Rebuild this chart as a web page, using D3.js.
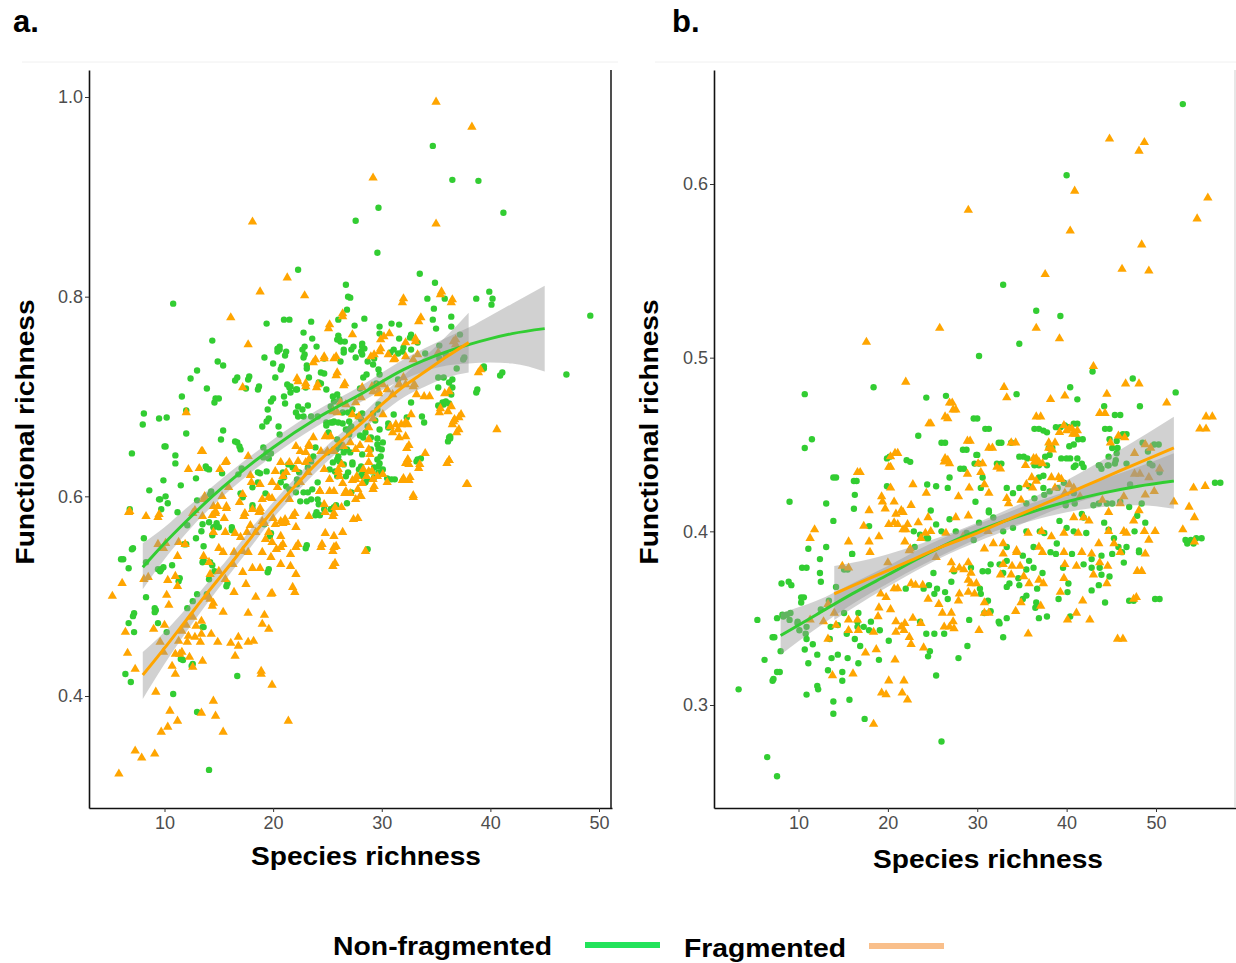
<!DOCTYPE html>
<html>
<head>
<meta charset="utf-8">
<script src="https://cdn.jsdelivr.net/npm/d3@7"></script>
<style>
  body { margin: 0; background: #fff; }
  svg text { font-family: "Liberation Sans", Arial, sans-serif; }
</style>
</head>
<body>
<svg id="chart" width="1236" height="963"></svg>
<script>
// ---- panel a : non-fragmented (green dots) ----
var greenA = [
[34.7,.951],[36.5,.917],[38.9,.916],[29.7,.889],[27.6,.876],[41.2,.884],[29.6,.844],[22.3,.827],[26.7,.812],[33.5,.823],[34.9,.814],[39.9,.805],[38.7,.798],[40.2,.798],[34.2,.798],[35.8,.798],[40.1,.792],[10.8,.793],[49.2,.781],[26.9,.800],[27.1,.799],[26.8,.787],[34.8,.788],[34.7,.777],[36.4,.780],[28.4,.778],[26.0,.777],[21.0,.777],[21.5,.777],[23.5,.775],[19.4,.773],[27.5,.771],[29.8,.770],[30.9,.773],[31.6,.772],[35.0,.768],[36.4,.770],[29.8,.763],[14.4,.756],[23.6,.758],[26.0,.761],[32.7,.762],[37.2,.762],[26.1,.757],[20.6,.750],[20.4,.748],[22.9,.750],[24.0,.750],[26.6,.755],[28.2,.753],[28.4,.748],[31.1,.747],[32.0,.749],[26.5,.747],[21.2,.745],[22.9,.742],[19.2,.739],[20.0,.733],[20.8,.730],[14.9,.735],[15.4,.731],[13.0,.726],[29.3,.738],[31.5,.743],[34.0,.743],[35.3,.751],[35.3,.738],[35.9,.742],[37.6,.739],[39.4,.730],[41.1,.724],[47.0,.722],[23.1,.731],[17.8,.720],[12.4,.718],[16.7,.719],[18.7,.710],[13.9,.708],[11.6,.700],[14.7,.698],[20.0,.698],[21.6,.710],[22.2,.707],[24.4,.713],[24.9,.707],[28.0,.708],[29.5,.713],[28.6,.722],[31.5,.717],[36.5,.717],[35.2,.709],[36.2,.693],[38.8,.707],[36.3,.660],[33.3,.637],[33.7,.680],
[22.8,.764],[25.9,.757],[26.2,.755],[31.6,.758],[32.6,.759],[33.3,.754],[27.4,.750],[28.2,.750],[28.1,.745],[27.6,.739],[28.2,.742],[27.2,.747],[30.8,.744],[31.9,.745],[32.7,.747],[22.7,.747],[22.8,.739],[24.7,.738],[26.5,.744],[26.2,.735],[28.7,.735],[29.2,.732],[23.1,.728],[24.4,.724],[24.7,.723],[29.7,.727],[29.8,.722],[28.3,.719],[37.5,.737],[36.9,.728],[35.2,.719],[35.7,.719],[36.2,.714],[36.5,.709],[39.4,.728],[40.9,.721],[38.7,.704],[35.6,.694],[35.2,.691],[32.7,.694],[23.3,.719],[24.2,.714],[23.0,.709],[22.1,.707],[21.6,.704],[25.5,.700],[25.9,.702],[26.1,.697],[25.6,.695],[25.3,.690],[22.3,.690],[22.7,.687],[23.2,.691],[22.3,.680],[22.1,.684],[22.8,.680],[24.9,.674],[25.3,.674],[25.6,.675],[26.0,.674],[23.5,.680],[24.1,.680],[26.4,.684],[26.9,.684],[27.3,.687],
[29.7,.624],[29.8,.633],[29.3,.619],[28.7,.617],[25.6,.589],[25.3,.587],[24.7,.587],[24.2,.592],[24.0,.584],[23.5,.597],[22.8,.604],[22.5,.595],[22.1,.604],[25.5,.634],[25.9,.637],[26.0,.640],[25.8,.647],[26.2,.649],[25.0,.644],[26.5,.644],[23.9,.649],[23.7,.640],[23.5,.635],[23.2,.629],[22.4,.624],[22.2,.617],[23.6,.607],[24.1,.614],
[29.7,.692],[29.6,.687],[29.2,.683],[29.4,.676],[30.6,.669],[29.8,.667],[29.6,.658],[29.6,.652],[29.7,.648],[29.6,.637],[29.7,.630],[28.1,.677],[28.2,.683],[27.8,.680],[27.2,.670],[27.0,.675],[26.9,.667],[28.0,.661],[28.3,.659],[27.0,.662],[26.4,.673],[26.7,.667],[27.1,.644],[27.3,.634],[28.2,.642],[29.0,.647],[28.1,.627],[28.3,.620],[28.5,.614],[28.1,.630],[27.3,.632],[26.9,.624],[26.7,.620],[25.7,.625],[25.9,.620],[25.6,.647],[25.9,.657],[26.2,.652],[25.1,.664],[24.9,.671],[25.5,.674],[31.1,.682],[30.6,.673],[32.3,.679],[33.9,.674],[35.3,.690],[35.7,.692],[35.9,.695],[36.4,.702],[36.1,.655],[36.2,.659],[29.0,.659],[28.5,.664],[28.7,.670],
[7.0,.643],[10.1,.650],[11.0,.641],[11.0,.633],[13.9,.628],[15.3,.623],[12.9,.618],[9.9,.616],[11.5,.611],[8.6,.606],[16.8,.622],[18.8,.623],[17.0,.647],[16.7,.654],[9.6,.597],[9.7,.587],[10.1,.600],[10.3,.593],[6.8,.587],[11.2,.584],[13.0,.596],[14.3,.605],[14.8,.573],[16.2,.569],[17.0,.603],[18.1,.591],[19.3,.603],[21.2,.610],[22.2,.612],[23.2,.604],[23.1,.595],[24.1,.597],[25.2,.627],[26.5,.632],[26.1,.635],[26.8,.647],[27.2,.604],[25.8,.591],[26.8,.593],[23.9,.581],[24.3,.581],[19.8,.563],[23.1,.551],[28.7,.547],[19.6,.527],[16.7,.420],[12.6,.432],[11.7,.436],[11.5,.437],[13.6,.469],[10.2,.464],[9.4,.473],[9.2,.486],[8.3,.499],[7.2,.483],[6.7,.473],[7.2,.464],[6.4,.422],[6.9,.414],[6.2,.537],[6.7,.528],[7.1,.548],[8.1,.558],[9.7,.527],[9.9,.529],[9.4,.527],[11.4,.518],[10.7,.531],[13.6,.536],[14.2,.534],[13.9,.502],[15.8,.513],[14.6,.525],[13.6,.550],[11.8,.552],[12.0,.552],[12.9,.558],[12.1,.571],[10.8,.402],[13.0,.384],[14.1,.326],[27.9,.627],[28.3,.625],[28.1,.621],[29.1,.625],[29.3,.629],[29.9,.640],[30.0,.647],[30.1,.654],[30.1,.627],[30.5,.618],[31.2,.617],[30.9,.617],[33.2,.635],[33.6,.638],[36.3,.658],
[11.3,.515],[8.3,.534],[13.5,.572],[14.1,.574],[14.5,.569],[15.0,.569],[13.4,.565],[14.4,.561],[16.2,.566],[13.5,.534],[14.4,.531],[15.7,.510],[14.1,.517],[9.1,.488],[9.1,.484],[7.1,.480],[12.1,.488],[12.6,.495],[13.0,.502],[13.5,.469],[12.5,.430],[19.5,.524],[23.0,.548],[19.7,.560],[19.2,.572],[6.0,.537],[7.0,.547],[9.6,.525],
[20.4,.745],[20.6,.747],[21.1,.741],[20.7,.727],[20.2,.719],[16.5,.716],[17.7,.717],[17.5,.708],[18.6,.707],[14.6,.694],[15.0,.698],[12.0,.686],[8.1,.683],[8.0,.672],[9.5,.678],[10.2,.679],[12.0,.663],[15.4,.666],[15.2,.657],[16.5,.655],[16.9,.650],[10.0,.650],[13.8,.630],[14.1,.627],[9.5,.597],[17.2,.599],[18.1,.588],[19.1,.649],[19.4,.644],[19.8,.643],[19.6,.638],[19.1,.639],[19.0,.670],[19.4,.675],[19.6,.678],[19.8,.695],[19.5,.687],[20.5,.670],[20.6,.662],[18.6,.624],[19.4,.625],[20.9,.624],[21.0,.619],[21.4,.632],[21.8,.629],[20.7,.614],[21.5,.607],[21.3,.712],[21.5,.709],[21.0,.700],[21.1,.693],[17.1,.628],[14.2,.602],[18.1,.609],[18.6,.614]
];

// ---- panel a : fragmented (orange triangles) ----
var orangeA = [
[35.0,.995],[38.3,.970],[29.2,.919],[35.0,.873],[18.1,.875],[21.3,.819],[18.8,.805],[22.9,.801],[35.5,.805],[32.0,.798],[36.5,.797],[26.4,.783],[33.6,.779],[16.1,.779],[25.2,.772],[17.7,.752],[30.2,.760],[30.7,.763],[33.1,.758],[36.8,.757],[29.9,.748],[24.7,.740],[25.8,.740],[23.9,.737],[29.3,.742],[30.6,.742],[31.2,.738],[32.2,.740],[33.3,.742],[39.1,.727],[22.2,.718],[23.0,.713],[24.1,.712],[26.6,.713],[17.2,.709],[25.9,.724],[29.7,.703],[33.0,.712],[33.2,.702],[33.9,.700],[34.4,.700],[36.2,.705],[35.4,.688],[36.4,.690],[37.3,.682],[36.7,.677],[37.1,.667],[40.6,.667],[36.2,.636],[34.0,.643],[33.5,.632],[32.4,.637],[32.4,.672],[31.5,.667],
[12.0,.684],[13.4,.645],[15.6,.634],[17.7,.640],[12.2,.627],[13.2,.628],[15.1,.627],[20.7,.634],[21.5,.634],[20.2,.625],[20.9,.620],[21.2,.624],[18.0,.614],[18.8,.612],[19.9,.614],[20.4,.609],[15.9,.609],[15.3,.600],[14.5,.590],[15.7,.588],[14.9,.590],[13.6,.597],[17.2,.602],[16.9,.594],[19.6,.599],[19.0,.597],[18.8,.585],[18.1,.587],[21.5,.597],
[8.3,.580],[9.4,.579],[6.7,.584],[12.6,.583],[13.5,.580],[14.4,.581],[14.7,.583],[15.5,.578],[17.3,.580],[18.7,.584],[17.9,.571],[19.0,.575],[20.2,.572],[20.7,.575],[21.2,.574],[22.1,.569],[21.8,.580],[23.3,.580],[24.8,.584],[25.5,.580],[26.4,.564],[25.6,.560],[24.8,.563],[14.5,.564],[15.6,.564],[16.5,.563],[17.0,.559],[17.6,.564],[18.4,.564],[19.3,.557],[19.6,.564],[20.7,.560],[22.1,.549],[24.4,.549],[25.5,.545],[25.6,.549],[11.9,.552],[11.3,.554],[9.4,.552],[9.9,.548],[13.6,.540],[15.0,.548],[15.4,.544],[16.4,.544],[17.2,.545],[17.7,.544],[19.0,.544],[19.8,.539],[20.7,.549],[21.6,.542],[20.7,.532],[21.6,.530],[22.1,.522],[25.5,.530],[11.2,.540],[14.1,.534],[14.2,.522],[15.0,.525],[15.6,.517],[16.3,.532],[17.2,.524],[18.1,.528],[18.8,.528],[17.5,.512],[18.4,.499],[17.7,.483],[15.4,.484],[16.4,.504],[19.8,.502],[19.2,.481],[19.0,.472],[19.6,.467],[21.8,.509],[22.0,.504],[19.9,.554],[20.3,.547],[6.1,.513],[5.2,.500],[8.1,.517],[8.5,.519],[10.3,.516],[11.0,.520],[11.2,.510],[10.2,.501],[10.4,.491],[12.6,.479],[13.4,.475],[12.9,.470],[12.0,.471],[11.6,.465],[12.2,.460],[12.8,.459],[13.4,.462],[14.3,.462],[13.3,.454],[12.1,.454],[11.3,.455],[11.4,.442],[11.0,.442],[10.0,.471],[9.0,.467],[6.4,.464],[6.6,.443],[7.3,.427],[10.7,.430],[11.0,.422],[12.3,.439],[13.5,.435],[12.6,.429],[9.6,.454],[9.9,.444],[11.6,.444],[14.0,.499],[14.4,.490],[14.5,.493],[14.2,.497],[14.9,.454],[16.1,.453],[16.8,.459],[16.5,.440],[17.7,.454],[18.2,.455],[16.8,.450],[18.9,.422],[19.9,.411],[9.2,.404],[14.5,.395],[13.4,.383],[14.7,.380],[10.5,.385],[11.2,.375],[10.3,.369],[9.7,.364],[15.4,.364],[21.4,.375],[7.3,.345],[7.9,.338],[9.1,.342],[5.8,.322],
[13.5,.645],[15.7,.635],[17.9,.621],[6.8,.585],[9.5,.582],[12.8,.586],[13.7,.600],[14.7,.585],[15.7,.590],[17.4,.583],[18.8,.588],[19.9,.598],[24.3,.605],[25.6,.605],[26.6,.603],[28.1,.600],[25.6,.583],[21.1,.577],[20.9,.573],[22.0,.583],[20.0,.578],[19.2,.573],[20.9,.552],[22.3,.552],[24.5,.552],[25.8,.550],[27.4,.577],[27.8,.578],[28.5,.545],[25.7,.533],[19.9,.503],[27.7,.620],[28.6,.620],[32.0,.618],[32.6,.619],[32.5,.632],[32.5,.651],[32.9,.601],[29.3,.610],[36.2,.636],[37.9,.612],[18.9,.425],[10.1,.553],
[30.1,.712],[30.5,.707],[31.0,.702],[32.2,.712],[32.9,.710],[31.6,.712],[32.7,.682],[32.2,.674],[31.8,.672],[32.2,.660],[32.3,.648],[31.3,.672],[30.8,.670],[31.0,.664],[31.6,.659],[35.3,.684],[36.1,.685],[37.1,.679],[36.6,.675],[36.5,.672],[36.9,.664],[35.8,.703],[28.8,.669],[28.8,.657],[28.8,.647],[28.9,.642],[28.0,.651],[27.6,.647],[27.1,.654],[26.5,.650],[28.8,.634],[28.8,.625],[28.3,.627],[29.2,.617],[25.6,.645],[25.0,.645],[31.9,.616],[32.5,.616],[33.4,.628],[32.2,.633],[36.0,.633],[37.8,.612],[32.9,.599],[30.1,.622],[29.1,.625],[30.5,.614],[29.6,.620],[27.6,.617],[28.2,.613],[27.1,.603],[26.7,.605],[29.2,.607],[28.0,.600],[27.6,.597],[26.3,.589],[25.7,.589],[24.7,.592],[24.3,.605],[26.0,.627],[25.2,.617],[26.1,.620],[24.4,.645],[23.3,.652],[22.5,.645],[23.0,.634],[22.1,.627],[25.9,.684],[25.5,.685],[26.2,.694],[26.7,.692],[28.1,.699],[27.3,.682],[27.6,.694],[27.9,.680],[30.1,.682],[29.2,.678],[29.7,.705],[29.2,.705],[28.2,.709],[29.1,.710],[29.5,.710],[25.3,.660],[24.8,.660],[26.3,.632],[27.3,.616],[26.4,.613],[27.8,.607],[24.7,.627],[26.0,.624],[23.7,.659],[23.3,.650],[23.0,.644],[22.1,.650],[23.3,.637],[22.3,.635],[23.2,.624],[22.5,.614],[24.3,.605],[25.2,.605],[25.1,.768],[31.9,.794],[33.4,.775],[35.4,.802],[36.4,.794],[26.4,.780],[29.9,.757],[27.3,.762],[29.0,.740],[29.8,.745],[25.8,.721],[26.5,.711],[24.0,.709],[22.3,.715],[23.0,.710],[23.7,.734],[24.7,.738],[25.6,.738],[31.1,.737],[32.9,.737],[32.2,.754],[33.1,.755],[32.0,.719],[31.6,.712],[35.2,.744],[36.8,.752],[36.6,.755],[38.9,.724]
];

// ---- panel b : non-fragmented (green dots) ----
var greenB = [
[53.0,.646],[40.0,.605],[32.9,.542],[36.6,.527],[39.3,.524],[34.7,.508],[30.2,.501],[42.9,.492],[47.4,.488],[18.4,.483],[10.7,.479],[40.4,.483],[52.2,.480],[24.3,.477],[26.5,.478],[34.4,.479],[41.2,.476],[44.2,.472],[48.2,.472],[46.0,.467],[30.0,.465],[41.2,.462],[40.2,.460],[31.3,.459],[36.9,.459],[37.8,.457],[44.8,.459],[23.4,.455],[10.7,.448],[11.5,.453],[46.7,.456],[46.0,.455],[41.8,.453],[40.8,.450],[40.4,.442],[38.4,.448],[39.3,.460],[45.6,.452],[45.7,.448],[48.5,.451],[50.3,.450],[49.1,.446],[26.4,.451],[30.0,.444],[30.2,.439],[32.7,.451],[32.7,.439],[35.2,.443],[36.9,.438],[38.1,.444],[39.4,.442],[20.2,.443],[22.5,.440],[28.5,.436],[28.8,.447],[14.2,.431],[16.5,.429],[41.2,.442],[41.7,.439],[41.9,.437],[43.6,.438],[44.6,.438],[45.5,.441],[43.9,.436],
[19.9,.442],[22.1,.441],[13.9,.431],[16.2,.429],[16.3,.421],[13.1,.416],[9.0,.417],[16.2,.413],[13.9,.406],[19.9,.426],[24.4,.427],[17.9,.403],[22.9,.400],[23.6,.398],[24.5,.396],[11.1,.390],[13.1,.391],[16.0,.387],[12.4,.384],[23.0,.391],[24.8,.412],
[29.6,.465],[30.9,.459],[32.4,.451],[33.8,.451],[36.4,.459],[37.4,.458],[38.8,.460],[39.8,.461],[40.8,.462],[41.3,.453],[40.3,.449],[40.0,.442],[41.0,.438],[40.8,.437],[37.6,.443],[38.0,.448],[44.3,.459],[45.4,.467],[46.3,.456],[44.8,.453],[45.1,.448],[45.6,.445],[44.7,.443],[26.0,.451],[28.4,.447],[29.9,.444],[29.7,.439],[32.2,.439],[34.7,.443],[35.6,.442],[36.4,.438],[37.8,.438],[26.9,.431],[26.7,.425],[28.1,.436],[30.6,.431],[30.4,.425],[25.4,.426],[29.8,.417],[31.3,.411],[33.3,.425],[34.0,.422],[34.7,.425],[35.5,.416],[36.4,.419],[36.9,.431],[37.4,.432],[35.8,.426],[37.4,.425],[38.1,.423],[37.5,.421],[39.0,.425],[39.7,.428],[40.8,.422],[39.9,.415],[40.9,.416],[41.7,.410],[43.0,.415],[43.6,.416],[45.1,.416],[46.0,.417],[47.0,.414],[44.5,.416],[47.9,.409],[48.4,.416],[49.8,.450],[49.6,.438],[50.4,.434],[49.3,.439],[47.1,.427],[46.7,.439],[45.4,.439],[43.7,.438],[44.7,.438],[56.6,.428],[54.5,.396],[53.3,.395],[53.5,.393],
[24.3,.396],[25.4,.404],[26.0,.400],[26.9,.407],[27.6,.400],[28.8,.399],[29.6,.395],[30.2,.405],[31.8,.408],[31.3,.412],[32.9,.400],[33.3,.391],[34.0,.402],[35.5,.400],[36.3,.391],[37.0,.400],[37.5,.399],[38.9,.393],[39.2,.406],[40.0,.402],[40.8,.400],[41.9,.408],[42.2,.399],[44.2,.405],[44.7,.401],[45.3,.396],[45.8,.391],[46.7,.391],[47.6,.400],[48.1,.389],[48.8,.405],[57.2,.428],[53.9,.395],[54.2,.393],[55.1,.396],[50.4,.361],[47.5,.360],
[8.1,.370],[8.9,.371],[10.4,.379],[10.9,.379],[12.4,.376],[12.5,.371],[16.0,.387],[5.4,.349],[7.1,.339],[7.6,.350],[8.0,.331],[6.2,.326],[7.6,.319],[7.1,.314],[3.3,.309],[10.3,.362],[10.3,.359],[10.8,.341],[10.9,.338],[10.7,.332],[11.6,.335],[12.1,.329],[11.1,.324],[13.3,.320],[12.1,.311],[12.2,.309],[10.9,.306],[13.9,.302],[13.9,.295],[15.7,.303],[17.4,.292],[14.9,.314],[14.9,.319],[13.6,.345],[14.4,.346],[13.5,.338],[13.7,.327],[14.4,.329],[15.5,.327],[16.9,.334],[16.7,.324],[16.3,.338],[15.4,.341],[16.6,.345],[16.6,.348],[17.3,.345],[17.9,.343],[18.1,.348],[19.1,.343],[20.1,.337],[19.0,.326],[16.7,.353],[15.1,.353],[12.5,.355],[13.4,.360],[14.2,.368],[15.1,.378],[15.5,.378],[22.0,.367],[24.0,.367],[24.6,.369],[25.2,.364],[25.5,.367],[23.6,.348],[24.3,.341],[24.7,.331],[24.5,.328],[25.2,.341],[25.4,.317],[26.0,.279],[27.9,.327],[28.9,.334],[29.1,.349],[26.3,.341],[6.5,.270],[7.6,.259],[25.1,.376],[26.4,.365],[26.7,.361],[27.1,.371],[27.4,.377],[7.2,.315],[7.9,.319],[7.3,.339],[8.2,.352],[8.7,.352],[9.1,.353],[9.9,.347],[10.1,.343],[10.9,.345],[10.6,.362],[9.2,.369],[9.9,.348],[9.0,.349],[8.3,.351],
[33.3,.383],[35.1,.386],[35.8,.383],[36.3,.379],[35.5,.378],[32.9,.376],[33.3,.368],[33.6,.370],[34.6,.373],[34.7,.369],[36.7,.367],[37.3,.376],[38.2,.388],[38.8,.387],[39.6,.379],[40.2,.370],[40.1,.365],[39.1,.361],[40.6,.387],[41.9,.381],[42.8,.384],[42.8,.379],[43.7,.379],[43.6,.369],[42.8,.366],[43.9,.375],[44.8,.374],[45.1,.387],[46.2,.388],[46.4,.382],[43.9,.386],[44.3,.359],[47.0,.360],[48.1,.388],[49.9,.361],[36.6,.359],[36.5,.356],[36.9,.350],[37.8,.351],[35.5,.363],[35.1,.361],[32.5,.347],[33.3,.350],[32.9,.339],[40.4,.351],[29.3,.379],[30.6,.377],[31.2,.377],[31.5,.381],[32.5,.381],[32.4,.348],[30.4,.364],[30.3,.367],[31.2,.360],[30.8,.353],[31.5,.354]
];

// ---- panel b : fragmented (orange triangles) ----
var orangeB = [
[44.8,.626],[48.7,.624],[48.1,.619],[40.9,.596],[55.8,.592],[29.0,.585],[54.6,.580],[40.4,.573],[48.4,.565],[46.2,.551],[49.2,.550],[37.6,.548],[36.6,.517],[25.8,.517],[39.2,.511],[17.6,.509],[43.0,.495],[46.6,.485],[48.1,.485],[22.0,.486],[33.0,.483],[44.5,.479],[33.3,.477],[38.2,.476],[39.8,.478],[51.2,.474],[27.2,.474],[27.6,.470],[44.3,.468],[37.1,.466],[56.3,.466],[26.7,.465],[24.8,.462],[40.3,.459],[41.2,.458],[41.0,.456],[39.2,.457],[55.6,.459],[46.5,.454],[38.7,.451],[38.4,.447],[47.6,.445],[49.4,.448],[29.2,.452],[31.7,.448],[34.3,.451],[36.6,.442],[36.9,.440],[37.3,.439],[26.7,.441],[26.9,.439],[20.3,.443],[21.1,.445],[20.3,.437],[30.6,.439],[32.6,.436],[16.9,.434],[50.4,.436],[48.2,.433],[43.7,.468],
[20.8,.445],[20.1,.437],[16.6,.434],[20.3,.425],[22.8,.427],[19.3,.420],[19.4,.417],[20.7,.417],[19.7,.413],[22.6,.415],[20.9,.410],[21.5,.412],[21.7,.411],[17.9,.412],[20.1,.404],[20.7,.405],[21.1,.404],[22.2,.404],[23.4,.405],[21.7,.401],[22.0,.401],[24.5,.408],[24.2,.399],[23.7,.396],[17.3,.403],[17.9,.394],[19.0,.397],[15.6,.394],[18.0,.388],[11.8,.401],[11.3,.396],[21.9,.394],[22.4,.389],
[26.9,.474],[27.3,.470],[26.4,.466],[36.6,.466],[38.0,.451],[38.0,.448],[33.8,.451],[39.7,.461],[40.0,.458],[40.7,.456],[40.6,.459],[45.8,.455],[44.9,.451],[24.6,.462],[26.4,.442],[26.3,.440],[28.9,.452],[31.3,.448],[28.9,.433],[30.1,.439],[30.4,.434],[32.2,.437],[35.4,.438],[36.3,.442],[36.4,.440],[29.1,.425],[30.8,.427],[31.3,.422],[27.9,.420],[24.3,.422],[35.5,.427],[36.1,.431],[36.6,.429],[33.3,.419],[33.5,.416],[34.9,.418],[36.2,.425],[38.3,.431],[39.1,.431],[39.4,.430],[40.3,.427],[38.7,.425],[39.8,.422],[40.8,.425],[41.5,.420],[44.7,.411],[44.0,.418],[46.0,.416],[46.4,.420],[48.1,.412],[48.8,.421],[49.8,.423],[48.8,.450],[47.6,.433],[49.2,.431],[52.0,.417],[53.7,.414],[54.3,.408],[53.0,.401],[54.3,.394],[55.5,.426],[54.2,.425],[54.9,.459],[55.6,.466],
[24.8,.400],[26.5,.399],[27.6,.408],[29.0,.409],[28.4,.397],[31.2,.400],[30.8,.390],[31.8,.393],[32.9,.393],[34.4,.389],[35.7,.399],[36.9,.391],[37.2,.400],[38.3,.397],[39.7,.399],[40.8,.408],[41.9,.408],[41.3,.399],[42.5,.406],[43.6,.393],[44.7,.400],[45.3,.393],[46.4,.400],[47.5,.406],[46.7,.399],[48.7,.400],[49.2,.395],[49.9,.400],[48.4,.377],[46.3,.338],[47.8,.362],
[13.8,.317],[16.1,.318],[17.5,.330],[18.7,.332],[20.8,.326],[20.1,.314],[21.8,.314],[19.3,.307],[19.8,.306],[21.6,.307],[22.2,.303],[18.4,.289],[13.3,.338],[15.6,.343],[16.6,.349],[18.4,.342],[18.9,.351],[19.8,.362],[19.0,.356],[20.3,.355],[20.9,.348],[21.5,.345],[21.9,.347],[22.4,.339],[22.6,.335],[22.8,.350],[23.7,.347],[24.0,.333],[20.9,.342],[21.8,.343],[15.6,.349],[16.7,.343],[14.2,.346],[12.8,.348],[11.3,.349],[13.3,.358],[14.0,.353],[22.6,.370],[23.9,.369],[23.1,.369],[20.7,.367],[21.1,.367],[24.5,.361],[25.7,.358],[26.1,.353],[27.1,.353],[27.3,.348],[26.9,.345],[27.4,.344],[26.3,.345],[27.9,.360],[28.0,.364],[29.0,.365],[29.7,.364],[30.2,.343],[30.8,.359],[31.3,.353],[30.8,.353],[25.4,.385],[27.1,.382],[27.3,.378],[28.0,.379],[28.5,.378],[29.0,.382],[29.3,.376],[29.0,.372],[29.3,.370],[29.9,.370],[14.9,.380],[15.6,.379],[20.0,.382],[22.5,.390],[19.2,.364],
[32.9,.387],[34.4,.388],[33.9,.380],[34.8,.380],[32.9,.381],[32.6,.375],[33.8,.375],[35.2,.374],[35.8,.370],[36.9,.372],[37.4,.370],[37.3,.388],[39.7,.388],[39.8,.381],[41.1,.380],[39.7,.373],[39.3,.365],[41.8,.360],[41.1,.353],[40.1,.349],[42.6,.349],[43.0,.375],[43.7,.382],[44.6,.380],[44.5,.370],[42.8,.387],[41.7,.388],[46.0,.388],[48.8,.387],[47.9,.377],[47.5,.361],[45.7,.338],[35.7,.341],[37.1,.357],[34.9,.359],[34.3,.354]
];

// ---- smoothed fits: [x, fit, lower, upper] ----
var fitGreenA = [[8,.529,.507,.553],[10,.553,.537,.569],[12,.575,.563,.588],[14,.596,.586,.606],[16,.615,.606,.624],[20,.649,.641,.657],[24,.678,.670,.686],[28,.702,.694,.710],[32,.727,.717,.737],[36,.745,.731,.759],[38,.752,.733,.769],[40,.758,.734,.781],[42,.763,.733,.793],[45,.768,.725,.811]];
var fitOrangeA = [[8,.421,.397,.444],[10,.448,.432,.464],[12,.476,.464,.488],[14,.504,.494,.514],[16,.531,.522,.540],[18,.559,.550,.568],[20,.586,.578,.594],[22,.610,.602,.618],[24,.633,.625,.641],[26,.653,.645,.661],[28,.672,.664,.680],[30,.692,.683,.701],[32,.710,.699,.721],[34,.725,.710,.740],[36,.740,.719,.761],[38,.754,.724,.784]];
var fitGreenB = [[8,.340,.329,.353],[12,.352,.344,.360],[16,.364,.358,.370],[20,.375,.370,.380],[24,.386,.381,.391],[28,.396,.391,.400],[32,.404,.400,.408],[36,.411,.406,.416],[40,.417,.411,.423],[44,.422,.414,.430],[48,.426,.415,.437],[52,.429,.413,.445]];
var fitOrangeB = [[14,.364,.349,.380],[18,.373,.362,.384],[22,.382,.374,.390],[26,.391,.385,.397],[30,.399,.394,.405],[34,.408,.402,.414],[38,.417,.411,.424],[42,.426,.418,.435],[46,.435,.424,.447],[52,.448,.430,.466]];

var xTicks = [10, 20, 30, 40, 50];
var yTicksA = [0.4, 0.6, 0.8, 1.0];
var yTicksB = [0.3, 0.4, 0.5, 0.6];
var panelLabels = ["a.", "b."];
var xTitle = "Species richness", yTitle = "Functional richness";
var legendLabels = ["Non-fragmented", "Fragmented"];

(function () {
    var svg = d3.select("svg#chart");
    var GREEN = "#32cd32", ORANGE = "#ffa500";
    var tri = d3.symbol(d3.symbolTriangle, 38);

    function drawPanel(cfg) {
        var x = d3.scaleLinear().domain([10, 50]).range(cfg.xr);
        var y = d3.scaleLinear().domain(cfg.yd).range(cfg.yr);
        var b = cfg.box;
        // scales stretched to the panel box, used for the axis lines
        var xFull = d3.scaleLinear().domain([x.invert(b.l), x.invert(b.r)]).range([b.l, b.r]);
        var yFull = d3.scaleLinear().domain([y.invert(b.b), y.invert(b.t)]).range([b.b, b.t]);
        var g = svg.append("g");

        g.append("g").selectAll("circle").data(cfg.green).join("circle")
            .attr("cx", d => x(d[0])).attr("cy", d => y(d[1]))
            .attr("r", 3.2).attr("fill", GREEN);
        g.append("g").selectAll("path").data(cfg.orange).join("path")
            .attr("d", tri)
            .attr("transform", d => "translate(" + x(d[0]) + "," + y(d[1]) + ")")
            .attr("fill", ORANGE);

        var area = d3.area().x(d => x(d[0])).y0(d => y(d[2])).y1(d => y(d[3])).curve(d3.curveMonotoneX);
        var line = d3.line().x(d => x(d[0])).y(d => y(d[1])).curve(d3.curveMonotoneX);
        [cfg.fitG, cfg.fitO].forEach(function (f) {
            g.append("path").attr("d", area(f)).attr("fill", "#999").attr("fill-opacity", 0.45);
        });
        g.append("path").attr("d", line(cfg.fitG)).attr("fill", "none")
            .attr("stroke", GREEN).attr("stroke-width", 3);
        g.append("path").attr("d", line(cfg.fitO)).attr("fill", "none")
            .attr("stroke", ORANGE).attr("stroke-width", 3);

        var ax = g.append("g").attr("transform", "translate(0," + b.b + ")")
            .call(d3.axisBottom(xFull).tickValues(xTicks).tickSize(4).tickSizeOuter(0).tickPadding(4));
        var ay = g.append("g").attr("transform", "translate(" + b.l + ",0)")
            .call(d3.axisLeft(yFull).tickValues(cfg.yt).tickFormat(d3.format(".1f"))
                  .tickSize(4).tickSizeOuter(0).tickPadding(2));
        [ax, ay].forEach(function (a) {
            a.select(".domain").attr("stroke", "#111").attr("stroke-width", 1.6);
            a.selectAll(".tick line").attr("stroke", "#333");
            a.selectAll(".tick text").attr("fill", "#4d4d4d").attr("font-size", 18)
                .style("font-family", "'Liberation Sans', Arial, sans-serif");
        });

        g.append("line").attr("x1", cfg.rightX).attr("x2", cfg.rightX)
            .attr("y1", b.t).attr("y2", b.b)
            .attr("stroke", cfg.rightColor).attr("stroke-width", cfg.rightW);
        g.append("line").attr("x1", cfg.topLine[0]).attr("x2", cfg.topLine[1])
            .attr("y1", 62).attr("y2", 62).attr("stroke", "#f0f0f0");

        g.append("text").attr("x", cfg.xtPos[0]).attr("y", cfg.xtPos[1])
            .attr("text-anchor", "middle").attr("font-weight", "bold").attr("font-size", 26)
            .attr("textLength", 230).attr("lengthAdjust", "spacingAndGlyphs")
            .text(xTitle);
        g.append("text")
            .attr("transform", "translate(" + cfg.ytPos[0] + "," + cfg.ytPos[1] + ") rotate(-90)")
            .attr("text-anchor", "middle").attr("font-weight", "bold").attr("font-size", 26)
            .attr("textLength", 265).attr("lengthAdjust", "spacingAndGlyphs")
            .text(yTitle);
        g.append("text").attr("x", cfg.lab[0]).attr("y", cfg.lab[1])
            .attr("font-weight", "bold").attr("font-size", 31).text(cfg.label);
    }

    drawPanel({
        green: greenA, orange: orangeA, fitG: fitGreenA, fitO: fitOrangeA,
        xr: [164.5, 599], yd: [0.4, 1.0], yr: [696, 97], yt: yTicksA,
        box: {l: 89, r: 612, t: 70, b: 808},
        rightX: 611, rightColor: "#222", rightW: 1.6, topLine: [22, 618],
        xtPos: [366, 865], ytPos: [34, 432], lab: [13, 32], label: panelLabels[0]
    });
    drawPanel({
        green: greenB, orange: orangeB, fitG: fitGreenB, fitO: fitOrangeB,
        xr: [798.5, 1156], yd: [0.3, 0.6], yr: [705, 184], yt: yTicksB,
        box: {l: 714, r: 1236, t: 70, b: 808},
        rightX: 1235, rightColor: "#cfcfcf", rightW: 1, topLine: [655, 1236],
        xtPos: [988, 868], ytPos: [658, 432], lab: [672, 32], label: panelLabels[1]
    });

    // legend
    var lg = svg.append("g");
    lg.append("text").attr("x", 333).attr("y", 955).attr("font-weight", "bold").attr("font-size", 26)
        .attr("textLength", 219).attr("lengthAdjust", "spacingAndGlyphs").text(legendLabels[0]);
    lg.append("line").attr("x1", 585).attr("x2", 660).attr("y1", 945).attr("y2", 945)
        .attr("stroke", "#22e35a").attr("stroke-width", 6);
    lg.append("text").attr("x", 684).attr("y", 957).attr("font-weight", "bold").attr("font-size", 26)
        .attr("textLength", 162).attr("lengthAdjust", "spacingAndGlyphs").text(legendLabels[1]);
    lg.append("line").attr("x1", 869).attr("x2", 944).attr("y1", 946).attr("y2", 946)
        .attr("stroke", "#f9bf8b").attr("stroke-width", 6);
})();
</script>
</body>
</html>
